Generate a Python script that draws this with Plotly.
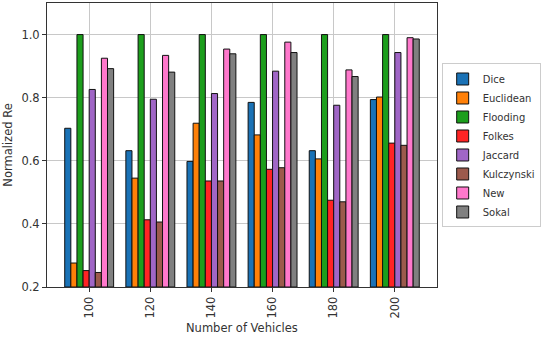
import plotly.graph_objects as go

categories = ["100", "120", "140", "160", "180", "200"]
series_names = ["Dice", "Euclidean", "Flooding", "Folkes", "Jaccard", "Kulczynski", "New", "Sokal"]
dice = [0.703, 0.632, 0.598, 0.785, 0.632, 0.794]
euclidean = [0.276, 0.545, 0.719, 0.682, 0.606, 0.802]
flooding = [1.0, 1.0, 1.0, 1.0, 1.0, 1.0]
folkes = [0.252, 0.413, 0.536, 0.573, 0.475, 0.656]
jaccard = [0.826, 0.795, 0.813, 0.884, 0.776, 0.943]
kulczynski = [0.246, 0.406, 0.536, 0.578, 0.470, 0.649]
new = [0.925, 0.934, 0.954, 0.976, 0.888, 0.990]
sokal = [0.892, 0.881, 0.939, 0.943, 0.867, 0.986]
series_values = [dice, euclidean, flooding, folkes, jaccard, kulczynski, new, sokal]
colors = ["#1a72b6", "#ff8008", "#1c9e1c", "#ff2424", "#a066c6", "#9c5a4c", "#ff78cc", "#808080"]

fig = go.Figure()
xs = list(range(len(categories)))
for name, vals, c in zip(series_names, series_values, colors):
    fig.add_trace(go.Bar(
        x=xs, y=[v - 0.2 for v in vals], base=0.2, name=name,
        marker=dict(color=c, line=dict(color="#111111", width=1)),
    ))

font = "DejaVu Sans, sans-serif"
fig.update_layout(
    width=550, height=339,
    margin=dict(l=47, r=113, t=3, b=52),
    paper_bgcolor="white", plot_bgcolor="white",
    barmode="group", bargap=0.2, bargroupgap=0,
    font=dict(family=font, size=11.5, color="#333333"),
    legend=dict(x=1.012, y=0.787, xanchor="left", yanchor="top",
                bordercolor="#cccccc", borderwidth=1, bgcolor="white",
                font=dict(size=10, color="#333333"), tracegroupgap=0, itemwidth=30),
    showlegend=True,
    annotations=[dict(text="Number of Vehicles", xref="paper", yref="paper",
                      x=0.5, y=-0.143, xanchor="center", yanchor="middle",
                      showarrow=False, font=dict(size=11.5, color="#333333"))],
)
fig.update_xaxes(
    range=[-0.69, 5.69], tickvals=xs, ticktext=categories, tickangle=-90,
    showgrid=True, gridcolor="#c8c8c8", gridwidth=1,
    showline=True, linecolor="#333333", linewidth=1, mirror=True,
    ticks="outside", ticklen=4, tickcolor="#333333",
    zeroline=False,
)
fig.update_yaxes(
    range=[0.2, 1.1], tickvals=[0.2, 0.4, 0.6, 0.8, 1.0], ticktext=["0.2", "0.4", "0.6", "0.8", "1.0"],
    showgrid=True, gridcolor="#c8c8c8", gridwidth=1,
    showline=True, linecolor="#333333", linewidth=1, mirror=True,
    ticks="outside", ticklen=4, tickcolor="#333333",
    title=dict(text="Normalized Re", font=dict(size=11.5), standoff=6),
    zeroline=False,
)
fig.write_html("out.html", config={"displayModeBar": False},
               post_script="document.body.style.margin='0';document.body.style.overflow='hidden';")
